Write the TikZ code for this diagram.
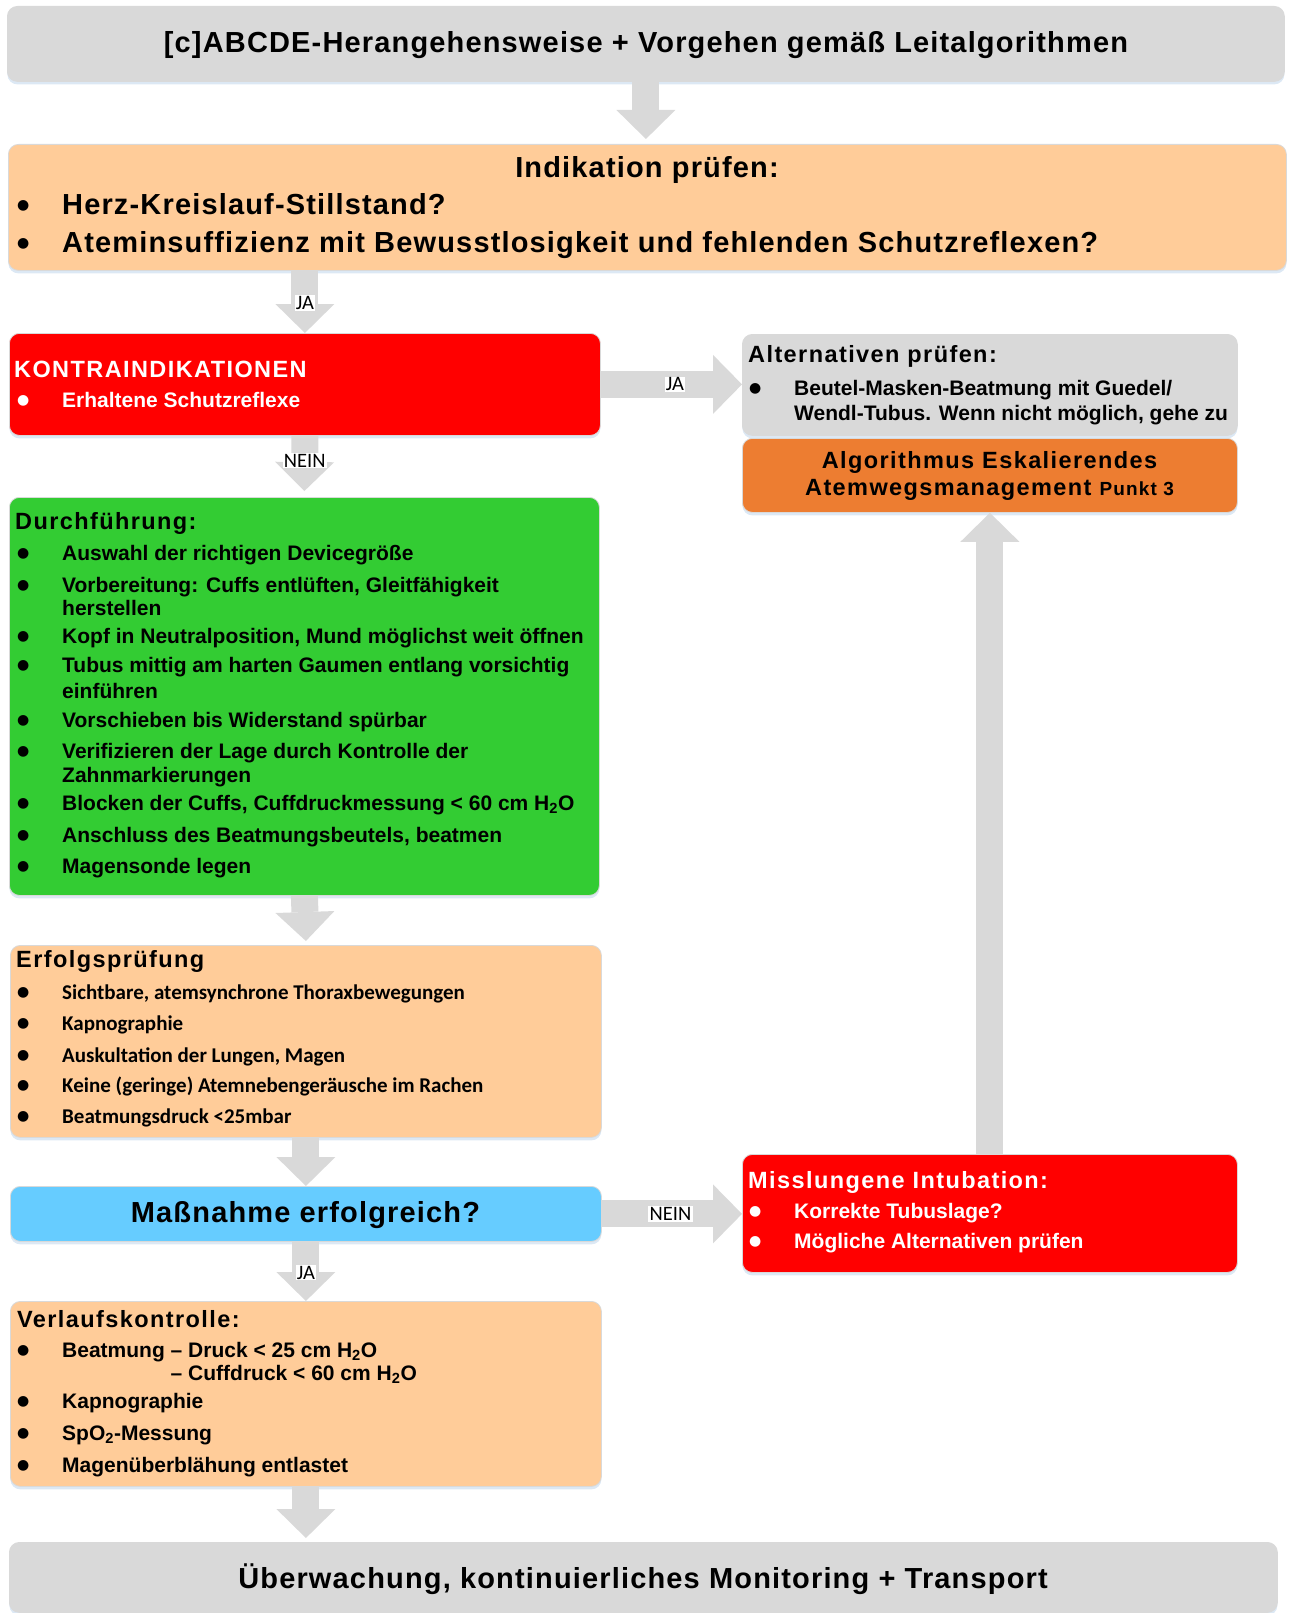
\documentclass[tikz,border=0pt]{standalone}
\usepackage{fontspec}
\setmainfont{Liberation Sans}
\newfontfamily\calfont{Carlito}
\newfontfamily\symfont{DejaVu Sans}
\usepackage{tikz}
\usetikzlibrary{arrows.meta,shadows}

\definecolor{boxgray}{RGB}{217,217,217}
\definecolor{peach}{RGB}{255,204,153}
\definecolor{alarmred}{RGB}{255,0,0}
\definecolor{okgreen}{RGB}{51,204,51}
\definecolor{skyblue}{RGB}{102,204,255}
\definecolor{escorange}{RGB}{237,125,49}
\definecolor{arrowgray}{RGB}{217,217,217}
\definecolor{shadowblue}{RGB}{205,222,240}

\newcommand\titlefont{\bfseries\fontsize{29}{34}\selectfont\addfontfeatures{LetterSpace=4}}
\newcommand\headfont{\bfseries\fontsize{23.5}{28}\selectfont\addfontfeatures{LetterSpace=6}}
\newcommand\itemfont{\bfseries\fontsize{21}{24}\selectfont}
\newcommand\erfolgfont{\calfont\bfseries\fontsize{21}{24}\selectfont}
\newcommand\lblfont{\calfont\fontsize{20.5}{22}\selectfont}
\newcommand\itm[1]{\makebox[45pt][l]{\raisebox{\dimexpr0.4em-6pt\relax}{\symfont\fontsize{14}{14}\selectfont ●}}#1}

\tikzset{
    box/.style ={
        shape=rectangle,
        anchor=north west,
        rounded corners=10pt,
        draw=black!15,
        line width=0.8pt,
        inner sep=0pt,
        drop shadow={shadow xshift=0pt,shadow yshift=-3pt,fill=shadowblue,opacity=0.7}
    },
    graybox/.style ={box, fill=boxgray},
    peachbox/.style ={box, fill=peach},
    redbox/.style ={box, fill=alarmred},
    greenbox/.style ={box, fill=okgreen},
    bluebox/.style ={box, fill=skyblue},
    orangebox/.style ={box, fill=escorange},
    title/.style ={
        anchor=base,
        inner sep=0pt,
        font=\titlefont
    },
    head/.style ={
        anchor=base west,
        inner sep=0pt,
        font=\headfont
    },
    item/.style ={
        anchor=base west,
        inner sep=0pt,
        font=\itemfont
    },
    erfolg/.style ={
        anchor=base west,
        inner sep=0pt,
        font=\erfolgfont
    },
    blockarrow/.style ={
        draw=arrowgray,
        line width=27pt,
        -{Triangle[length=29pt,width=59pt,line width=0pt]}
    },
    lbl/.style ={
        fill=white,
        inner sep=1.2pt,
        font=\lblfont
    }
}

\begin{document}
\begin{tikzpicture}[x=1pt,y=-1pt]
    \useasboundingbox (0,0) rectangle (1292,1613);

    % boxes
    \node[graybox, minimum width=1277pt, minimum height=75pt] (top) at(7,6) {};
    \node[peachbox, minimum width=1278pt, minimum height=126pt] (indik) at(8,144) {};
    \node[redbox, minimum width=591pt, minimum height=102pt] (kontra) at(9,333) {};
    \node[graybox, minimum width=495pt, minimum height=101pt] (alt) at(742,334) {};
    \node[orangebox, minimum width=495pt, minimum height=74pt] (algo) at(742,438) {};
    \node[greenbox, minimum width=590pt, minimum height=398pt] (durch) at(9,497) {};
    \node[peachbox, minimum width=591pt, minimum height=192pt] (erfolg) at(10,945) {};
    \node[bluebox, minimum width=591pt, minimum height=55pt] (mass) at(10,1186) {};
    \node[redbox, minimum width=495pt, minimum height=118pt] (miss) at(742,1154) {};
    \node[peachbox, minimum width=591pt, minimum height=185pt] (verlauf) at(10,1301) {};
    \node[graybox, minimum width=1268pt, minimum height=70pt] (bottom) at(9,1542) {};

    % texts
    \node[title] (toptext) at(646,53) {[c]ABCDE-Herangehensweise + Vorgehen gemäß Leitalgorithmen};

    \node[title] (indikhead) at(647,178) {Indikation prüfen:};
    \node[title, anchor=base west] (indik1) at(17,215) {\itm{Herz-Kreislauf-Stillstand?}};
    \node[title, anchor=base west] (indik2) at(17,253) {\itm{Ateminsuffizienz mit Bewusstlosigkeit und fehlenden Schutzreflexen?}};

    \node[head, text=white] (kontrahead) at(14,377) {KONTRAINDIKATIONEN};
    \node[item, text=white] (kontra1) at(17,407) {\itm{Erhaltene Schutzreflexe}};

    \node[head] (althead) at(748,362) {Alternativen prüfen:};
    \node[item] (alt1) at(749,395) {\itm{Beutel-Masken-Beatmung mit Guedel/}};
    \node[item] (alt2) at(794,420) {Wendl-Tubus. Wenn nicht möglich, gehe zu};

    \node[head, anchor=base] (algo1) at(989.5,468) {Algorithmus Eskalierendes};
    \node[head, anchor=base] (algo2) at(989.5,495) {Atemwegsmanagement {\itemfont\fontsize{19}{22}\selectfont Punkt 3}};

    \node[head] (durchhead) at(15,529) {Durchführung:};
    \node[item] (durch1) at(17,560) {\itm{Auswahl der richtigen Devicegröße}};
    \node[item] (durch2) at(17,592) {\itm{Vorbereitung: Cuffs entlüften, Gleitfähigkeit}};
    \node[item] (durch2b) at(62,615) {herstellen};
    \node[item] (durch3) at(17,643) {\itm{Kopf in Neutralposition, Mund möglichst weit öffnen}};
    \node[item] (durch4) at(17,672) {\itm{Tubus mittig am harten Gaumen entlang vorsichtig}};
    \node[item] (durch4b) at(62,698) {einführen};
    \node[item] (durch5) at(17,727) {\itm{Vorschieben bis Widerstand spürbar}};
    \node[item] (durch6) at(17,758) {\itm{Verifizieren der Lage durch Kontrolle der}};
    \node[item] (durch6b) at(62,782) {Zahnmarkierungen};
    \node[item] (durch7) at(17,810) {\itm{Blocken der Cuffs, Cuffdruckmessung < 60 cm H\textsubscript{2}O}};
    \node[item] (durch8) at(17,842) {\itm{Anschluss des Beatmungsbeutels, beatmen}};
    \node[item] (durch9) at(17,873) {\itm{Magensonde legen}};

    \node[head] (erfolghead) at(16,967) {Erfolgsprüfung};
    \node[erfolg] (erfolg1) at(17,999) {\itm{Sichtbare, atemsynchrone Thoraxbewegungen}};
    \node[erfolg] (erfolg2) at(17,1030) {\itm{Kapnographie}};
    \node[erfolg] (erfolg3) at(17,1062) {\itm{Auskultation der Lungen, Magen}};
    \node[erfolg] (erfolg4) at(17,1092) {\itm{Keine (geringe) Atemnebengeräusche im Rachen}};
    \node[erfolg] (erfolg5) at(17,1123) {\itm{Beatmungsdruck <25mbar}};

    \node[title] (masstext) at(305.5,1222) {Maßnahme erfolgreich?};

    \node[head, text=white] (misshead) at(748,1188) {Misslungene Intubation:};
    \node[item, text=white] (miss1) at(749,1218) {\itm{Korrekte Tubuslage?}};
    \node[item, text=white] (miss2) at(749,1248) {\itm{Mögliche Alternativen prüfen}};

    \node[head] (verlaufhead) at(17,1327) {Verlaufskontrolle:};
    \node[item] (verlauf1) at(17,1357) {\itm{Beatmung – Druck < 25 cm H\textsubscript{2}O}};
    \node[item] (verlauf1b) at(62,1380) {\phantom{Beatmung }– Cuffdruck < 60 cm H\textsubscript{2}O};
    \node[item] (verlauf2) at(17,1408) {\itm{Kapnographie}};
    \node[item] (verlauf3) at(17,1440) {\itm{SpO\textsubscript{2}-Messung}};
    \node[item] (verlauf4) at(17,1472) {\itm{Magenüberblähung entlastet}};

    \node[title] (bottomtext) at(643,1588) {Überwachung, kontinuierliches Monitoring + Transport};

    % arrows
    \draw[blockarrow] (top.south) -- ([yshift=5pt]indik.north -| top.south);
    \draw[blockarrow] (kontra.north |- indik.south) -- (kontra.north) node[lbl, pos=0.52] (ja1) {JA};
    \draw[blockarrow] (kontra.east) -- (alt.west |- kontra.east) node[lbl, pos=0.525] (ja2) {JA};
    \draw[blockarrow] (kontra.south) -- ([yshift=6pt]durch.north) node[lbl, pos=0.45] (nein1) {NEIN};
    \draw[blockarrow] (durch.south) -- ([yshift=4pt]erfolg.north);
    \draw[blockarrow] (erfolg.south) -- (mass.north);
    \draw[blockarrow] (mass.east) -- (miss.west |- mass.east) node[lbl, pos=0.49] (nein2) {NEIN};
    \draw[blockarrow] (miss.north) -- (algo.south);
    \draw[blockarrow] (mass.south) -- (verlauf.north) node[lbl, pos=0.52] (ja3) {JA};
    \draw[blockarrow] (verlauf.south) -- ([yshift=4pt]verlauf.south |- bottom.north);
\end{tikzpicture}
\end{document}
